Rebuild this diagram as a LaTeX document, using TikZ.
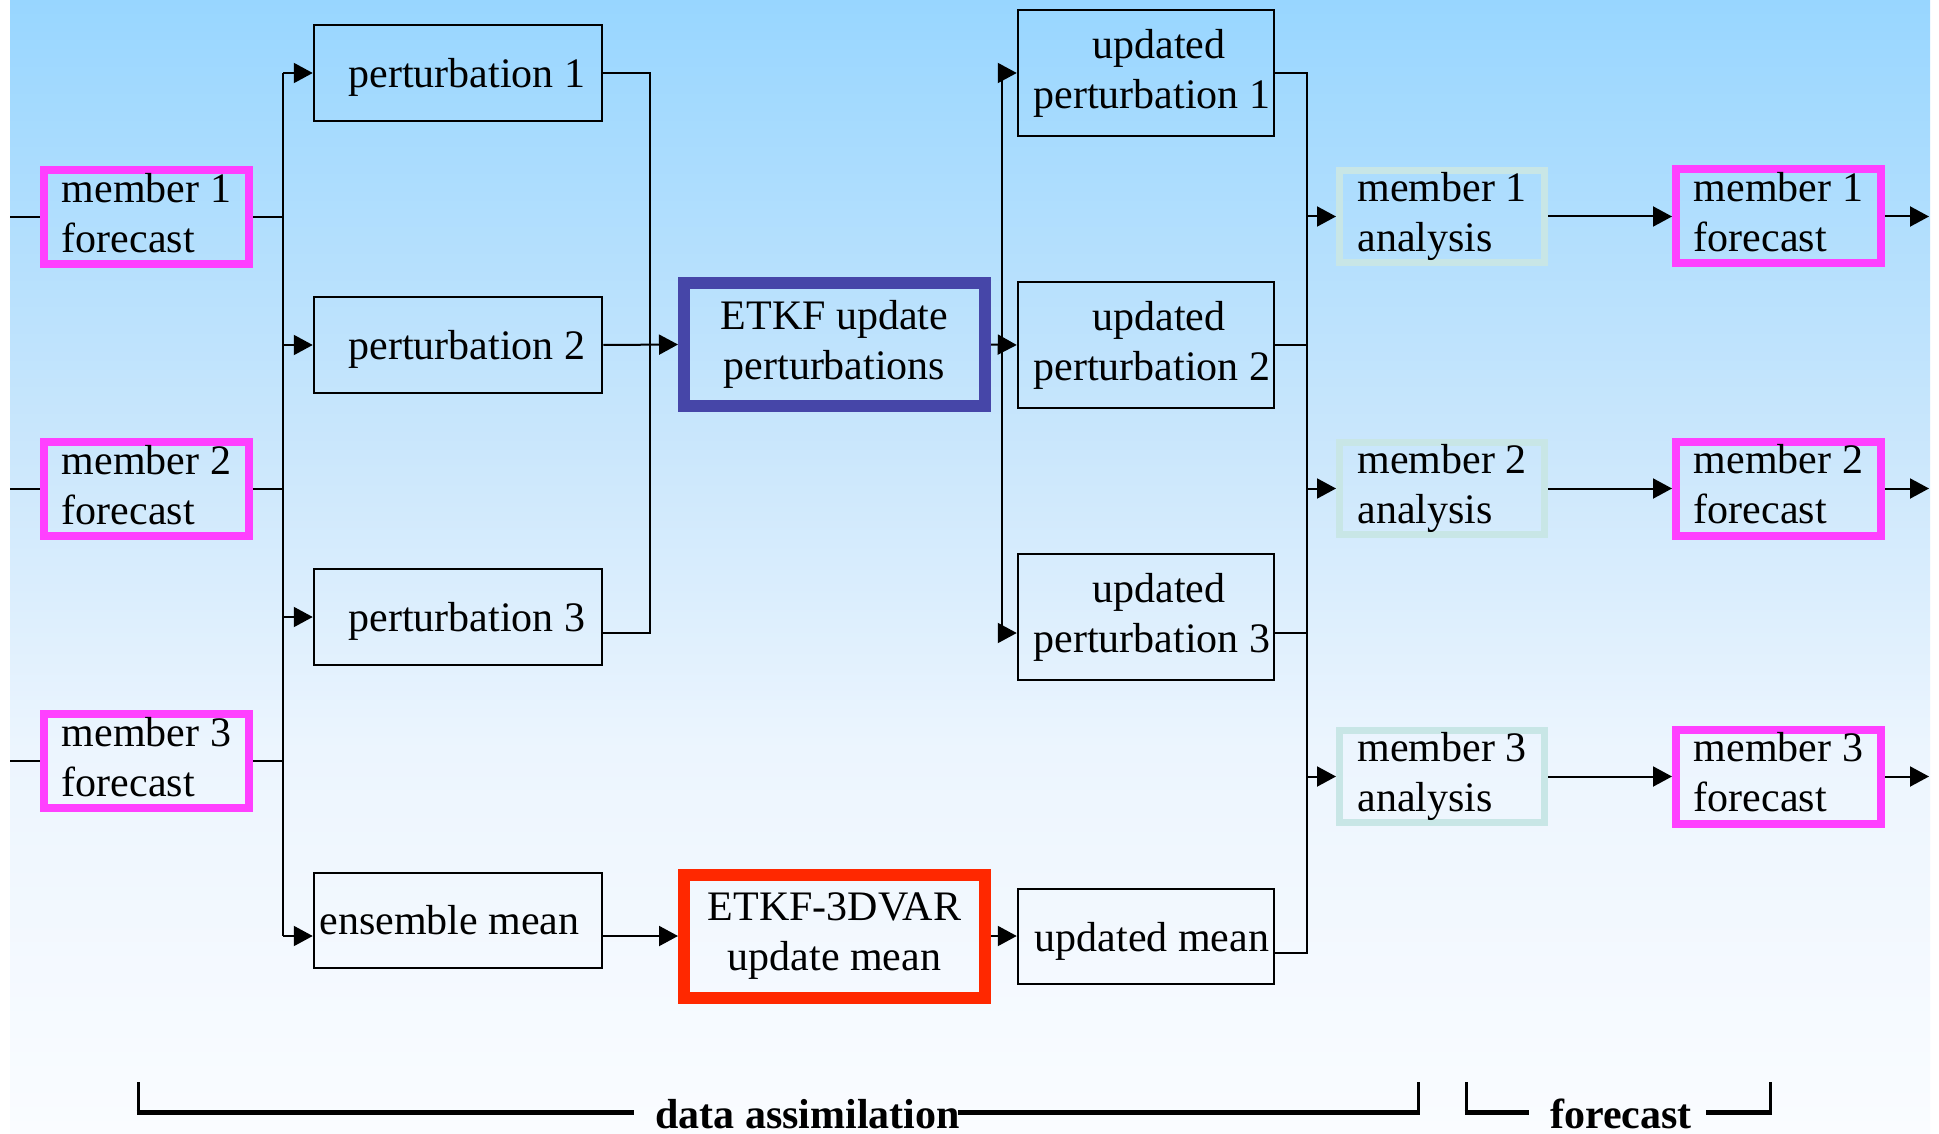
\documentclass[tikz,border=0pt]{standalone}
\usepackage{fontspec}
\setmainfont{Liberation Serif}
\usetikzlibrary{arrows.meta}
\definecolor{magbox}{RGB}{255,64,255}
\definecolor{anabox}{RGB}{200,230,230}
\definecolor{bluebox}{RGB}{70,70,168}
\definecolor{redbox}{RGB}{255,40,0}
\definecolor{bgA}{RGB}{152,214,255}
\definecolor{bgB}{RGB}{203,231,252}
\definecolor{bgC}{RGB}{236,245,254}
\definecolor{bgD}{RGB}{250,252,255}
\pgfdeclareverticalshading{bgshade}{100bp}{color(0bp)=(bgD); color(25bp)=(bgD); color(42bp)=(bgC); color(55bp)=(bgB); color(75bp)=(bgA); color(100bp)=(bgA)}
\tikzset{
  basefont/.style={font=\fontsize{42}{50}\selectfont},
  boxbase/.style={inner sep=0pt, basefont},
  magb/.style={boxbase, draw=magbox, line width=8pt, minimum width=205pt, minimum height=94pt, align=left, text depth=9pt},
  anab/.style={boxbase, draw=anabox, line width=7pt, minimum width=205pt, minimum height=92pt, align=left},
  pbox/.style={boxbase, draw=black, line width=2.5pt, minimum width=288pt, minimum height=96pt, align=center},
  ubox/.style={boxbase, draw=black, line width=2.5pt, minimum width=256pt, minimum height=126pt, align=center},
  bluek/.style={boxbase, draw=bluebox, line width=12pt, minimum width=301pt, minimum height=123pt, align=center},
  redk/.style={boxbase, draw=redbox, line width=12pt, minimum width=301pt, minimum height=123pt, align=center},
  conn/.style={line width=2pt},
  arr/.style={line width=2pt, -{Triangle[length=19pt,width=20pt]}},
  bracketlbl/.style={font={\fontsize{42}{50}\selectfont\bfseries}, inner sep=0pt, anchor=base}
}
\begin{document}
\begin{tikzpicture}[x=1pt,y=-1pt]
\useasboundingbox (0,0) rectangle (1939,1134);
\fill[white] (0,0) rectangle (1939,1134);
\shade[shading=bgshade] (10,0) rectangle (1930,1134);

% left forecasts
\node[magb] (mf1) at (146.5,217) {member 1\\forecast};
\node[magb] (mf2) at (146.5,489) {member 2\\forecast};
\node[magb] (mf3) at (146.5,761) {member 3\\forecast};

% perturbations
\node[pbox, text depth=0pt] (p1) at (458,73) {\hspace*{18pt}perturbation 1};
\node[pbox, text depth=0pt] (p2) at (458,345) {\hspace*{18pt}perturbation 2};
\node[pbox, text depth=0pt] (p3) at (458,617) {\hspace*{18pt}perturbation 3};
\node[pbox, minimum height=95pt] (em) at (458,920.5) {ensemble mean\hspace*{17pt}};

% ETKF boxes
\node[bluek] (etkf) at (834.5,344.5) {ETKF update\\perturbations};
\node[redk] (etkf3) at (834.5,936.5) {ETKF-3DVAR\\update mean};

% updated
\node[ubox] (u1) at (1146,73) {\hspace*{26pt}updated\\\hspace*{12pt}perturbation 1};
\node[ubox] (u2) at (1146,345) {\hspace*{26pt}updated\\\hspace*{12pt}perturbation 2};
\node[ubox] (u3) at (1146,617) {\hspace*{26pt}updated\\\hspace*{12pt}perturbation 3};
\node[ubox, minimum height=95pt, text depth=0pt] (um) at (1146,936.5) {\hspace*{12pt}updated mean};

% analyses
\node[anab] (a1) at (1442,216.5) {member 1\\analysis};
\node[anab] (a2) at (1442,488.5) {member 2\\analysis};
\node[anab] (a3) at (1442,776.5) {member 3\\analysis};

% right forecasts
\node[magb] (f1) at (1778.5,216.5) {member 1\\forecast};
\node[magb] (f2) at (1778.5,488.5) {member 2\\forecast};
\node[magb] (f3) at (1778.5,776.5) {member 3\\forecast};

% coordinates
\coordinate (in1) at (10,217);
\coordinate (in2) at (10,489);
\coordinate (in3) at (10,761);
\coordinate (b1top) at (283,73);
\coordinate (b1bot) at (283,936);
\coordinate (b2top) at (650,73);
\coordinate (b2bot) at (650,633);
\coordinate (b3top) at (1002,73);
\coordinate (b3bot) at (1002,633);
\coordinate (b4top) at (1307,73);
\coordinate (b4bot) at (1307,953);
\coordinate (o1) at (1929,216.5);
\coordinate (o2) at (1929,488.5);
\coordinate (o3) at (1929,776.5);

% inputs
\draw[conn] (in1) -- (mf1.west);
\draw[conn] (in2) -- (mf2.west);
\draw[conn] (in3) -- (mf3.west);

% bus 1
\draw[conn] (b1top) -- (b1bot);
\draw[conn] (mf1.east) -- (mf1.east -| b1top);
\draw[conn] (mf2.east) -- (mf2.east -| b1top);
\draw[conn] (mf3.east) -- (mf3.east -| b1top);
\draw[arr] (b1top) -- (p1.west);
\draw[arr] (p2.west -| b1top) -- (p2.west);
\draw[arr] (p3.west -| b1top) -- (p3.west);
\draw[arr] (b1bot) -- (em.west |- b1bot);

% bus 2
\draw[conn] (p1.east) -- (b2top) -- (b2bot) -- (p3.east |- b2bot);
\draw[arr] (p2.east) -- (etkf.west);

% bus 3
\draw[conn] (b3top) -- (b3bot);
\draw[arr] (etkf.east) -- (u2.west);
\draw[arr] (b3top) -- (u1.west);
\draw[arr] (b3bot) -- (u3.west |- b3bot);

% mean path
\draw[arr] (em.east |- b1bot) -- (etkf3.west |- b1bot);
\draw[arr] (etkf3.east |- b1bot) -- (um.west |- b1bot);

% bus 4
\draw[conn] (u1.east) -- (b4top) -- (b4bot) -- (um.east |- b4bot);
\draw[conn] (u2.east) -- (u2.east -| b4top);
\draw[conn] (u3.east |- b3bot) -- (b4top |- b3bot);
\draw[arr] (a1.west -| b4top) -- (a1.west);
\draw[arr] (a2.west -| b4top) -- (a2.west);
\draw[arr] (a3.west -| b4top) -- (a3.west);

% analysis to forecast
\draw[arr] (a1.east) -- (f1.west);
\draw[arr] (a2.east) -- (f2.west);
\draw[arr] (a3.east) -- (f3.west);
\draw[arr] (f1.east) -- (o1);
\draw[arr] (f2.east) -- (o2);
\draw[arr] (f3.east) -- (o3);

% brackets
\draw[line width=3pt] (138,1082) -- (138,1112);
\draw[line width=5pt] (136.5,1112.5) -- (634,1112.5);
\draw[line width=5pt] (958,1112.5) -- (1419.5,1112.5);
\draw[line width=3pt] (1418,1082) -- (1418,1112);
\node[bracketlbl] (dalbl) at (807.5,1128) {data assimilation};

\draw[line width=3pt] (1466,1082) -- (1466,1112);
\draw[line width=5pt] (1464.5,1112.5) -- (1529,1112.5);
\draw[line width=5pt] (1706,1112.5) -- (1771.5,1112.5);
\draw[line width=3pt] (1770,1082) -- (1770,1112);
\node[bracketlbl] (fclbl) at (1621,1128) {forecast};
\end{tikzpicture}
\end{document}
